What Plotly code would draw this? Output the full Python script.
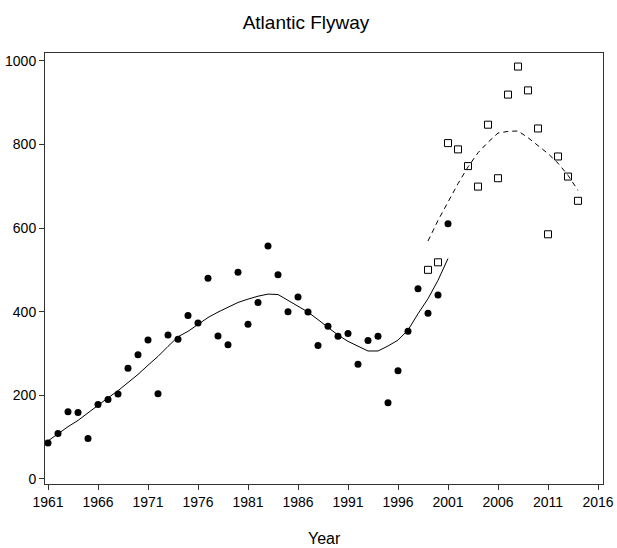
import plotly.graph_objects as go

# Observed (circles) 1961-2001
years_obs = list(range(1961, 2002))
vals_obs = [86, 109, 161, 159, 97, 178, 190, 203, 265, 297,
            332, 204, 344, 334, 391, 373, 480, 342, 321, 494,
            370, 422, 557, 488, 400, 435, 399, 319, 365, 341,
            348, 274, 331, 341, 182, 259, 353, 455, 396, 440,
            610]
# Smoothed line through circles
smooth_obs = [91, 109, 125, 140, 158, 178, 194, 211, 230, 250,
              272, 293, 317, 340, 353, 370, 386, 399, 411, 422,
              430, 437, 442, 441, 427, 414, 399, 381, 363, 344,
              329, 317, 306, 306, 318, 332, 356, 395, 431, 475,
              527]

# Squares 1999-2014
years_sq = list(range(1999, 2015))
vals_sq = [500, 518, 803, 788, 748, 699, 847, 719, 919, 986,
           929, 838, 585, 771, 723, 665]
smooth_sq = [569, 618, 662, 706, 746, 780, 805, 827, 831, 832,
             816, 798, 778, 755, 726, 690]

tick_years = list(range(1961, 2017, 5))
y_ticks = [0, 200, 400, 600, 800, 1000]

FONT = "Liberation Sans, Arial, Helvetica, sans-serif"

fig = go.Figure()
fig.add_trace(go.Scatter(x=years_obs, y=smooth_obs, mode="lines",
                         line=dict(color="black", width=1), showlegend=False))
fig.add_trace(go.Scatter(x=years_sq, y=smooth_sq, mode="lines",
                         line=dict(color="black", width=1, dash="5px,4px"), showlegend=False))
fig.add_trace(go.Scatter(x=years_obs, y=vals_obs, mode="markers",
                         marker=dict(symbol="circle", size=7, color="black"), showlegend=False))
fig.add_trace(go.Scatter(x=years_sq, y=vals_sq, mode="markers",
                         marker=dict(symbol="square-open", size=7, color="black",
                                     line=dict(width=1, color="black")), showlegend=False))

fig.update_layout(
    width=617, height=548,
    margin=dict(l=45, r=14, t=53, b=64),
    paper_bgcolor="white", plot_bgcolor="white",
    font=dict(family=FONT, color="black", size=14),
    title=dict(text="Atlantic Flyway", xref="container", x=0.496, xanchor="center",
               yref="container", y=1 - 22 / 548, yanchor="middle",
               font=dict(family=FONT, size=19, color="black")),
    xaxis=dict(range=[1960.7, 2016.5], tickmode="array", tickvals=tick_years,
               ticktext=[str(t) for t in tick_years], automargin=False,
               showgrid=False, zeroline=False, showline=True, mirror=True,
               linecolor="#333", linewidth=1, ticks="outside", ticklen=5,
               tickcolor="#333", tickfont=dict(size=14)),
    yaxis=dict(range=[-12, 1018.4], tickmode="array", tickvals=y_ticks,
               automargin=False,
               showgrid=False, zeroline=False, showline=True, mirror=True,
               linecolor="#333", linewidth=1, ticks="outside", ticklen=5,
               tickcolor="#333", tickfont=dict(size=14)),
    annotations=[dict(text="Year", xref="paper", yref="paper", x=0.5, y=(484 - 538) / 431,
                      xanchor="center", yanchor="middle", showarrow=False,
                      font=dict(family=FONT, size=16, color="black"))],
)

fig.write_html("out.html", config={"displayModeBar": False},
               post_script="document.body.style.margin='0';")
